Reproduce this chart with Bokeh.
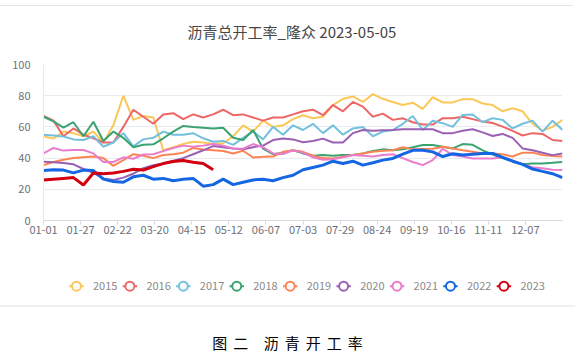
from bokeh.plotting import figure
from bokeh.models import ColumnDataSource, FixedTicker, Div, Range1d
from bokeh.core.properties import value
from bokeh.layouts import column
from bokeh.embed import file_html
from bokeh.resources import INLINE

TITLE = "沥青总开工率_隆众 2023-05-05"
CAPTION = "图二 沥青开工率"

YEARS = ["2015", "2016", "2017", "2018", "2019", "2020", "2021", "2022", "2023"]
COLORS = ["#fac858", "#ee6666", "#73c0de", "#3ba272", "#fc8452",
          "#9a60b4", "#ea7ccc", "#1466e3", "#d2000f"]
WIDTHS = [2, 2, 2, 2, 2, 2, 2, 3, 3]

TICK_POS = [0, 26, 52, 78, 104, 130, 156, 182, 208, 234, 260, 286, 312, 338]
TICK_LABELS = ["01-01", "01-27", "02-22", "03-20", "04-15", "05-12", "06-07",
               "07-03", "07-29", "08-24", "09-19", "10-16", "11-11", "12-07"]
Y_TICKS = [0, 20, 40, 60, 80, 100]
WEEK_STEP = 7
N_DAYS = 365

v2015 = [54, 52.5, 57, 56, 54, 57, 50, 61, 80, 64.5, 67, 66, 45, 47, 49, 50.5, 50, 49,
         49.5, 54, 61, 57, 64, 60, 61, 65, 67.5, 65.5, 66.5, 74, 78, 79.5, 76, 81, 78, 76,
         74, 75.5, 71.5, 79, 75.7, 75.7, 77.8, 77.8, 75, 74, 70, 72, 70, 62, 57.5, 60, 64.5]
v2016 = [67, 64, 54, 59, 55, 52.7, 50, 50, 60, 71, 66.5, 62, 68, 68.8, 65, 68, 66, 68, 71,
         67.5, 68, 66, 64, 66, 66, 68, 70, 71, 67.5, 74, 70, 76, 73, 66.5, 68.5, 64.5, 65.5,
         63, 61.5, 61.5, 65.6, 65.6, 66.5, 65, 63.4, 62.5, 60.2, 57.5, 54.5, 56, 55.5, 51.6, 51]
v2017 = [55, 54.5, 53.8, 52, 51.6, 54, 47.3, 50, 56, 47.5, 52, 53, 57, 55, 55, 56, 52.7,
         50.5, 51, 48.5, 53, 57, 52, 60, 55, 61, 58, 62, 56, 61, 55, 59, 60, 54, 57, 58, 62,
         67, 58, 64, 62.4, 60, 67.7, 68, 63, 65.6, 64.5, 59, 62, 64, 57, 64, 58]
v2018 = [66.5, 63.5, 59.5, 63, 54, 63.3, 51, 57, 53, 47, 48.5, 48.8, 52.7, 57, 60.6, 60,
         59.5, 59, 59.5, 53, 51.6, 58, 46, 42.5, 43.5, 45, 43, 41.5, 42, 41.5, 42, 42, 43,
         44.5, 45.6, 45, 45.6, 46.9, 48.4, 48.4, 47.3, 46.2, 49, 48.5, 45, 42.3, 40, 38, 36,
         36.5, 36.6, 37, 37.5]
v2019 = [35.5, 37.5, 39, 40, 40.5, 41, 40, 35, 38.7, 42.5, 41.5, 40, 42, 42.5, 43.5, 46.5,
         45.5, 45, 44.5, 43, 44.7, 40.4, 40.8, 41, 44, 45, 44, 41.5, 40, 39.8, 40.9, 42, 43,
         44, 44.7, 45, 47, 45.6, 45.8, 46, 47.3, 46.2, 45, 44, 43, 43, 42.5, 41, 43.5, 43.5,
         42, 41.3, 41]
v2020 = [37.7, 37.3, 36.8, 36, 33, 30.5, 27, 26, 27.5, 30, 33.5, 35.5, 36.6, 38.3, 40, 42.5,
         45, 47.7, 47, 46.2, 45.7, 47, 48, 51.6, 52.5, 52, 50.2, 51, 52.5, 50, 50, 56, 58,
         57.6, 57.8, 58, 58.5, 58.5, 58.5, 58.5, 56, 56, 57.5, 58.5, 56.5, 54.2, 55.5, 53,
         46.2, 45, 43.4, 41.9, 43]
v2021 = [43, 46.5, 44.8, 45.2, 45.2, 43, 37.5, 37.5, 40.5, 39.6, 42.3, 42.5, 44.5, 46.5, 48,
         47.3, 48, 49, 48, 46.2, 46, 49, 47, 43, 42.6, 45, 43.5, 40.5, 39, 39.3, 40.5, 42,
         41.5, 41, 42, 42.5, 40, 37.5, 35.5, 38.7, 46, 42, 41, 39.8, 39.8, 39.8, 40.5, 38.5,
         36, 34.2, 33.5, 32.5, 32.3]
v2022 = [32, 32.5, 32.3, 30.5, 32.3, 32, 26.5, 25, 24.5, 28, 29, 26.5, 27, 25.5, 26.5, 27,
         22, 23, 26.5, 23, 24.5, 26, 26.5, 25.5, 27.5, 29, 32.5, 34, 35.5, 38, 36.5, 38, 35.5,
         37, 38.7, 39.8, 42.5, 45, 45, 44, 41, 42.8, 42, 42.5, 43, 43, 40.5, 38, 36, 33,
         31.5, 30, 27.5]
v2023 = [26, 26.5, 27, 27.5, 22.8, 30.5, 30, 30.5, 31.5, 32.8, 32.3, 34.5, 36.5, 37.8,
         38.5, 37.3, 36.5, 32.5]

SERIES = [v2015, v2016, v2017, v2018, v2019, v2020, v2021, v2022, v2023]

FONT = "Noto Sans CJK SC"
W = 575

# ---------------- header: top rule + title ----------------
header = Div(text=("<div style=\"width:%dpx;height:48px;box-sizing:border-box;padding-top:5px;\">"
                   "<div style=\"width:%dpx;border-top:1px solid #e2e2e8;"
                   "box-sizing:border-box;padding-top:16px;padding-left:11px;"
                   "text-align:center;font-family:'Noto Sans CJK SC';font-size:15px;"
                   "color:#464646;line-height:20px;white-space:nowrap;\">" % (W, W - 2))
             + TITLE + "</div></div>",
             width=W, height=48, margin=0)

# ---------------- main chart ----------------
p = figure(width=W, height=214, title=None,
           x_range=Range1d(0, N_DAYS - 1), y_range=Range1d(0, 100),
           output_backend="svg", toolbar_location=None,
           min_border_left=43, min_border_right=13,
           min_border_top=16, min_border_bottom=42, margin=0)
p.outline_line_color = None
p.background_fill_color = "white"
p.border_fill_color = "white"

p.xaxis.ticker = FixedTicker(ticks=TICK_POS)
p.xaxis.major_label_overrides = {t: l for t, l in zip(TICK_POS, TICK_LABELS)}
p.xaxis.axis_line_color = "#d6dae2"
p.xaxis.major_tick_line_color = "#d6dae2"
p.xaxis.major_tick_in = 0
p.xaxis.major_tick_out = 4
p.xaxis.minor_tick_line_color = None
p.xaxis.major_label_standoff = 1
p.xaxis.major_label_text_font = FONT
p.xaxis.major_label_text_font_size = "11px"
p.xaxis.major_label_text_color = "#6e7079"

p.yaxis.ticker = FixedTicker(ticks=Y_TICKS)
p.yaxis.axis_line_color = "#e6e9f0"
p.yaxis.major_tick_line_color = None
p.yaxis.minor_tick_line_color = None
p.yaxis.major_label_standoff = 7
p.yaxis.major_label_text_font = FONT
p.yaxis.major_label_text_font_size = "11px"
p.yaxis.major_label_text_color = "#6e7079"

p.xgrid.visible = False
p.ygrid.ticker = FixedTicker(ticks=Y_TICKS[1:])
p.ygrid.grid_line_color = "#e8ebf2"
p.ygrid.grid_line_width = 1

for vals, col, w in zip(SERIES, COLORS, WIDTHS):
    days = list(range(0, WEEK_STEP * len(vals), WEEK_STEP))
    src = ColumnDataSource(dict(x=days, y=vals))
    p.line("x", "y", source=src, line_color=col, line_width=w)

# ---------------- legend row ----------------
LEG_H = 43
LEG_X0 = 36.5
LEG_PITCH = 59.2
LEG_Y = 19.3
ICON_HALF = 8
TEXT_GAP = 18.3

lg = figure(width=W, height=LEG_H, title=None, x_range=Range1d(0, W), y_range=Range1d(0, LEG_H),
            output_backend="svg", toolbar_location=None,
            x_axis_type=None, y_axis_type=None, min_border=0, margin=0)
lg.outline_line_color = None
lg.grid.visible = False

cx = [LEG_X0 + LEG_PITCH * i for i in range(len(YEARS))]
lsrc = ColumnDataSource(dict(
    x0=[c - ICON_HALF for c in cx], x1=[c + ICON_HALF for c in cx],
    cx=cx, cy=[LEG_Y] * len(cx), tx=[c + TEXT_GAP for c in cx],
    color=COLORS, label=YEARS))
lg.segment(x0="x0", y0="cy", x1="x1", y1="cy", source=lsrc,
           line_color="color", line_width=2)
lg.scatter(x="cx", y="cy", source=lsrc, marker="circle", size=9,
           fill_color="white", line_color="color", line_width=2)
lg.text(x="tx", y="cy", text="label", source=lsrc, text_baseline="middle",
        text_align="left", text_font=value(FONT), text_font_size="11px",
        text_color="#8a8a8a")

# ---------------- separator + caption ----------------
cap = Div(text=("<div style=\"width:%dpx;border-top:2px solid #eef0f4;padding-top:26px;"
                "padding-left:6px;box-sizing:border-box;text-align:center;"
                "font-family:'Noto Sans CJK SC';font-size:15px;letter-spacing:6px;"
                "color:#000;line-height:20px;white-space:nowrap;\">" % W) + CAPTION + "</div>",
          width=W, height=58, margin=0)

layout = column(header, p, lg, cap, spacing=0, margin=0)

open("out.html", "w").write(file_html(layout, INLINE))
